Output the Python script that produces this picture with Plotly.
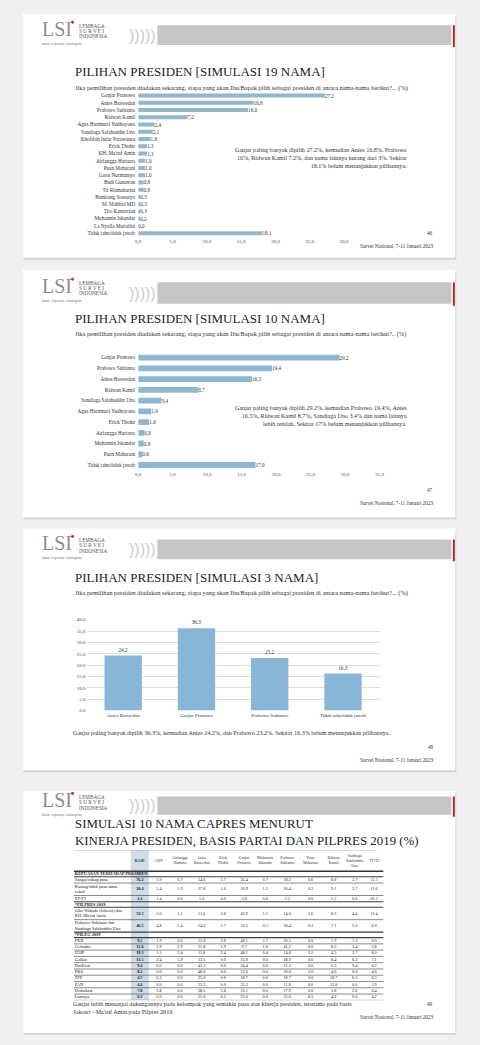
import plotly.graph_objects as go

W, H = 480, 1045
SERIF = "Liberation Serif, Times New Roman, serif"

# ------------------------------------------------------------------ data
sim19_names = ["Ganjar Pranowo", "Anies Baswedan", "Prabowo Subianto", "Ridwan Kamil",
               "Agus Harimurti Yudhoyono", "Sandiaga Salahuddin Uno", "Khofifah Indar Parawansa",
               "Erick Thohir", "KH. Ma'ruf Amin", "Airlangga Hartarto", "Puan Maharani",
               "Gatot Nurmantyo", "Budi Gunawan", "Tri Rismaharini", "Bambang Soesatyo",
               "M. Mahfud MD", "Tito Karnavian", "Muhaimin Iskandar", "La Nyalla Mattalitti",
               "Tidak tahu/tidak jawab"]
sim19_vals = [27.2, 16.8, 16.0, 7.2, 2.4, 2.1, 1.8, 1.3, 1.3, 1.0, 1.0, 1.0, 0.8, 0.8,
              0.3, 0.3, 0.3, 0.2, 0.0, 18.1]
sim19_ticks = [0, 5, 10, 15, 20, 25, 30]

sim10_names = ["Ganjar Pranowo", "Prabowo Subianto", "Anies Baswedan", "Ridwan Kamil",
               "Sandiaga Salahuddin Uno", "Agus Harimurti Yudhoyono", "Erick Thohir",
               "Airlangga Hartarto", "Muhaimin Iskandar", "Puan Maharani",
               "Tidak tahu/tidak jawab"]
sim10_vals = [29.2, 19.4, 16.5, 8.7, 3.4, 1.9, 1.6, 0.9, 0.8, 0.6, 17.0]
sim10_ticks = [0, 5, 10, 15, 20, 25, 30, 35]

sim3_names = ["Anies Baswedan", "Ganjar Pranowo", "Prabowo Subianto", "Tidak tahu/tidak jawab"]
sim3_vals = [24.2, 36.3, 23.2, 16.3]
sim3_ticks = [0, 5, 10, 15, 20, 25, 30, 35, 40]

tbl_headers = ["BASE", "AHY", "Airlangga<br>Hartarto", "Anies<br>Baswedan", "Erick<br>Thohir",
               "Ganjar<br>Pranowo", "Muhaimin<br>Iskandar", "Prabowo<br>Subianto",
               "Puan<br>Maharani", "Ridwan<br>Kamil", "Sandiaga<br>Salahuddin<br>Uno", "TT/TJ"]
tbl_labels = ["KEPUASAN TERHADAP PRESIDEN", "Sangat/cukup puas", "Kurang/tidak puas sama<br>sekali",
              "TT/TJ", "*PILPRES 2019", "Joko Widodo (Jokowi) dan<br>KH. Ma'ruf Amin",
              "Prabowo Subianto dan<br>Sandiaga Salahuddin Uno", "*PILEG 2019", "PKB", "Gerindra",
              "PDIP", "Golkar", "NasDem", "PKS", "PPP", "PAN", "Demokrat", "Lainnya"]
tbl_base      = [None, 76.2, 20.4, 3.3, None, 53.5, 46.5, None, 9.5, 12.6, 19.3, 13.5, 9.4, 8.2, 4.5, 4.4, 7.8, 6.3]
tbl_ahy       = [None, 1.0, 5.4, 1.4, None, 2.0, 4.8, None, 1.9, 2.9, 1.5, 2.4, 0.0, 0.0, 6.3, 0.0, 3.8, 0.0]
tbl_airlangga = [None, 0.7, 1.9, 0.0, None, 1.1, 1.4, None, 0.0, 1.9, 3.4, 5.9, 0.0, 0.0, 0.0, 0.0, 0.0, 0.0]
tbl_anies     = [None, 14.6, 27.8, 5.0, None, 11.4, 24.6, None, 15.8, 21.8, 11.8, 15.5, 41.2, 48.0, 25.0, 35.3, 38.5, 25.0]
tbl_erick     = [None, 1.7, 1.6, 0.0, None, 2.8, 1.7, None, 3.8, 1.9, 2.4, 0.0, 0.0, 0.0, 0.0, 0.0, 3.8, 8.3]
tbl_ganjar    = [None, 35.4, 10.9, 3.8, None, 43.9, 10.2, None, 49.1, 9.7, 48.1, 25.9, 24.4, 12.0, 18.7, 35.3, 23.1, 25.0]
tbl_muhaimin  = [None, 0.7, 1.3, 0.0, None, 1.1, 0.3, None, 5.7, 1.0, 0.4, 0.0, 0.0, 0.0, 0.0, 0.0, 0.0, 0.0]
tbl_prabowo   = [None, 18.2, 26.4, 3.2, None, 14.0, 36.4, None, 20.5, 41.2, 14.8, 28.9, 12.5, 30.0, 18.7, 11.8, 17.9, 25.0]
tbl_puan      = [None, 0.6, 0.2, 0.0, None, 1.6, 0.3, None, 0.0, 0.0, 3.1, 0.0, 0.0, 2.0, 0.0, 0.0, 0.0, 8.3]
tbl_ridwan    = [None, 8.8, 9.1, 2.2, None, 8.3, 7.1, None, 1.9, 8.3, 4.5, 8.4, 6.3, 4.0, 18.7, 11.8, 3.8, 4.2]
tbl_sandiaga  = [None, 3.7, 2.7, 0.0, None, 4.4, 5.0, None, 1.3, 3.4, 2.7, 6.2, 9.4, 0.0, 6.3, 0.0, 2.6, 0.0]
tbl_ttj       = [None, 15.1, 11.6, 81.1, None, 11.4, 6.9, None, 0.0, 5.8, 8.0, 7.1, 6.2, 4.0, 6.3, 5.9, 6.4, 4.2]
tbl_columns = [tbl_base, tbl_ahy, tbl_airlangga, tbl_anies, tbl_erick, tbl_ganjar, tbl_muhaimin,
               tbl_prabowo, tbl_puan, tbl_ridwan, tbl_sandiaga, tbl_ttj]

# ------------------------------------------------------------------ helpers
def px(x):
    return x / W


def py(y):
    return 1 - y / H


def fmt_c(v):
    return f"{v:.1f}".replace(".", ",")


BAR1 = "#93b6ca"
BAR2 = "#8db6d1"
BAR3 = "#88b6d6"
TXT = "#333333"

annotations = []
shapes = []


def txt(x, y, s, size, anchor="left", color="#222222", family=SERIF, align="left"):
    annotations.append(dict(x=px(x), y=py(y), xref="paper", yref="paper", text=s,
                            showarrow=False, xanchor=anchor, yanchor="middle", align=align,
                            font=dict(size=size, color=color, family=family), borderpad=0))


def rect(x0, y0, x1, y1, color, layer="below"):
    shapes.append(dict(type="rect", xref="paper", yref="paper", x0=px(x0), x1=px(x1),
                       y0=py(y1), y1=py(y0), fillcolor=color, line=dict(width=0), layer=layer))


def slide(top, bottom, bar_top, bar_bot):
    rect(21, top + 2, 461, bottom + 2, "#d3d5d8")
    rect(20, top, 460, bottom, "#ffffff")
    # header band
    rect(157, bar_top, 456, bar_bot, "#c6c6c6")
    rect(457.5, bar_top, 459.5, bar_bot + 2, "#b0262b")
    txt(127, (bar_top + bar_bot) / 2, ")))))", 16, color="#cbcbcb", family="Liberation Sans")
    # logo
    txt(39, bar_top + 4, "LSI", 20, color="#8e8e8e", family=SERIF)
    shapes.append(dict(type="circle", xref="paper", yref="paper", x0=px(69.2), x1=px(72.2),
                       y0=py(bar_top - 1.5), y1=py(bar_top - 4.5), fillcolor="#c0272d",
                       line=dict(width=0)))
    txt(76, bar_top + 0.8, "LEMBAGA", 5.2, color="#555555")
    txt(76, bar_top + 5.8, "S U R V E I", 5.2, color="#555555")
    txt(76, bar_top + 11.2, "INDONESIA", 5.2, color="#555555")
    txt(39, bar_top + 19, "akurat . terpercaya . berintegritas", 3.0, color="#666666")


# ------------------------------------------------------------------ backdrop / slides
slide(12, 257, 23.3, 43.3)
slide(269, 518, 281.7, 303.3)
slide(529, 772, 540, 560)
slide(793, 1036, 798.3, 816.7)

SUB = 6.4
CAP = 6.1

# slide 1 texts
txt(72, 70, "PILIHAN PRESIDEN [SIMULASI 19 NAMA]", 13)
txt(72, 86, "Jika pemilihan presiden diadakan sekarang, siapa yang akan Ibu/Bapak pilih sebagai "
            "presiden di antara nama-nama berikut?... (%)", SUB, color=TXT)
txt(412, 156.7, "Ganjar paling banyak dipilih 27.2%, kemudian Anies 16.8%, Prabowo<br>"
                "16%, Ridwan Kamil 7.2%, dan nama lainnya kurang dari 3%. Sekitar<br>"
                "18.1% belum menunjukkan pilihannya.", CAP, anchor="right", align="right", color=TXT)
txt(438, 232.3, "46", 5.2, anchor="right", color=TXT)
txt(439, 245.3, "Survei Nasional, 7-11 Januari 2023", 5.2, anchor="right", color=TXT)

# slide 2 texts
txt(72, 318.3, "PILIHAN PRESIDEN [SIMULASI 10 NAMA]", 13)
txt(72, 333.3, "Jika pemilihan presiden diadakan sekarang, siapa yang akan Ibu/Bapak pilih sebagai "
               "presiden di antara nama-nama berikut?.. (%)", SUB, color=TXT)
txt(412, 415.5, "Ganjar paling banyak dipilih 29.2%, kemudian Prabowo 19.4%, Anies<br>"
                "16.5%, Ridwan Kamil 8.7%, Sandiaga Uno 3.4% dan nama lainnya<br>"
                "lebih rendah. Sekitar 17% belum menunjukkan pilihannya.", CAP,
    anchor="right", align="right", color=TXT)
txt(438, 490, "47", 5.2, anchor="right", color=TXT)
txt(439, 503.3, "Survei Nasional, 7-11 Januari 2023", 5.2, anchor="right", color=TXT)

# slide 3 texts
txt(72, 578.3, "PILIHAN PRESIDEN [SIMULASI 3 NAMA]", 13)
txt(72, 594, "Jika pemilihan presiden diadakan sekarang, siapa yang akan Ibu/Bapak pilih sebagai "
             "presiden di antara nama-nama berikut?... (%)", SUB, color=TXT)
txt(70, 734.3, "Ganjar paling banyak dipilih 36.3%, kemudian Anies 24.2%, dan Prabowo 23.2%. "
               "Sekitar 16.3% belum menunjukkan pilihannya.", CAP, color=TXT)
txt(439, 748.3, "48", 5.2, anchor="right", color=TXT)
txt(439, 761.7, "Survei Nasional, 7-11 Januari 2023", 5.2, anchor="right", color=TXT)

# slide 4 texts
txt(72, 826, "SIMULASI 10 NAMA CAPRES MENURUT", 12.9)
txt(72, 843.5, "KINERJA PRESIDEN, BASIS PARTAI DAN PILPRES 2019 (%)", 12.9)
txt(70, 1010.5, "Ganjar lebih menonjol dukungannya pada kelompok yang semakin puas atas kinerja "
                "presiden, terutama pada basis<br>Jokowi - Ma'ruf Amin pada Pilpres 2019.", CAP, color=TXT)
txt(438, 1007, "49", 5.2, anchor="right", color=TXT)
txt(439, 1020, "Survei Nasional, 7-11 Januari 2023", 5.2, anchor="right", color=TXT)

fig = go.Figure()

# ------------------------------------------------------------------ chart 1
fig.add_trace(go.Bar(x=sim19_vals, y=sim19_names, orientation="h", xaxis="x", yaxis="y",
                     marker=dict(color=BAR1, line=dict(width=0)), width=0.55,
                     text=[fmt_c(v) for v in sim19_vals], textposition="outside",
                     constraintext="none", cliponaxis=False,
                     textfont=dict(size=5.2, color=TXT, family=SERIF), hoverinfo="skip"))

# ------------------------------------------------------------------ chart 2
fig.add_trace(go.Bar(x=sim10_vals, y=sim10_names, orientation="h", xaxis="x2", yaxis="y2",
                     marker=dict(color=BAR2, line=dict(width=0)), width=0.55,
                     text=[fmt_c(v) for v in sim10_vals], textposition="outside",
                     constraintext="none", cliponaxis=False,
                     textfont=dict(size=5.2, color=TXT, family=SERIF), hoverinfo="skip"))

# ------------------------------------------------------------------ chart 3
fig.add_trace(go.Bar(x=sim3_names, y=sim3_vals, xaxis="x3", yaxis="y3",
                     marker=dict(color=BAR3, line=dict(width=0)), width=0.51,
                     text=[fmt_c(v) for v in sim3_vals], textposition="outside",
                     constraintext="none", cliponaxis=False,
                     textfont=dict(size=5.2, color=TXT, family=SERIF), hoverinfo="skip"))

# ------------------------------------------------------------------ table (slide 4)
col_widths = [58, 18.3, 20.5, 22.2, 22, 21.7, 21.1, 21.7, 23, 24.5, 22.5, 20.2, 19.3]
header_h = 21.5
h_section, h_single, h_double = 5.5, 6.3, 12.5

edges = [0]
for w_ in col_widths:
    edges.append(edges[-1] + w_)
centers = [(edges[i] + edges[i + 1]) / 2 for i in range(len(col_widths))]

row_h = []
for i, lab in enumerate(tbl_labels):
    if tbl_base[i] is None:
        row_h.append(h_section)
    elif "<br>" in lab:
        row_h.append(h_double)
    else:
        row_h.append(h_single)
row_top = [header_h]
for h_ in row_h:
    row_top.append(row_top[-1] + h_)
row_c = [(row_top[i] + row_top[i + 1]) / 2 for i in range(len(row_h))]
total_h = row_top[-1]
total_w = edges[-1]

tbl_top_px, tbl_left_px = 852, 72

# BASE column highlight
shapes.append(dict(type="rect", xref="x4", yref="y4", x0=edges[1], x1=edges[2], y0=0, y1=total_h,
                   fillcolor="#cfdcea", line=dict(width=0), layer="below"))
# rules
shapes.append(dict(type="line", xref="x4", yref="y4", x0=0, x1=total_w - 7, y0=0, y1=0,
                   line=dict(color="#9a9a9a", width=0.8)))
shapes.append(dict(type="line", xref="x4", yref="y4", x0=0, x1=total_w, y0=header_h, y1=header_h,
                   line=dict(color="#333333", width=1.4)))
for i in range(len(row_h)):
    nxt_section = (i + 1 < len(row_h)) and tbl_base[i + 1] is None
    shapes.append(dict(type="line", xref="x4", yref="y4", x0=0, x1=total_w,
                       y0=row_top[i + 1], y1=row_top[i + 1],
                       line=dict(color="#3a3a3a", width=1.1 if (nxt_section or tbl_base[i] is None) else 0.6)))

# header
fig.add_trace(go.Scatter(x=centers[1:], y=[header_h / 2] * len(tbl_headers),
                         text=["<b>BASE</b>" if h_ == "BASE" else h_ for h_ in tbl_headers],
                         mode="text", textposition="middle center", xaxis="x4", yaxis="y4",
                         textfont=dict(size=3.9, color="#333333", family=SERIF),
                         hoverinfo="skip", cliponaxis=False))
# row labels
fig.add_trace(go.Scatter(x=[1.0] * len(tbl_labels), y=row_c,
                         text=[f"<b>{l}</b>" if tbl_base[i] is None else l for i, l in enumerate(tbl_labels)],
                         mode="text", textposition="middle right", xaxis="x4", yaxis="y4",
                         textfont=dict(size=4.4, color="#222222", family=SERIF),
                         hoverinfo="skip", cliponaxis=False))
# values
for j, col in enumerate(tbl_columns):
    xs, ys, ts = [], [], []
    for i, v in enumerate(col):
        if v is None:
            continue
        xs.append(centers[j + 1])
        ys.append(row_c[i])
        ts.append(f"<b>{v:.1f}</b>" if j == 0 else f"{v:.1f}")
    fig.add_trace(go.Scatter(x=xs, y=ys, text=ts, mode="text", textposition="middle center",
                             xaxis="x4", yaxis="y4",
                             textfont=dict(size=4.2, color="#222222", family=SERIF),
                             hoverinfo="skip", cliponaxis=False))

# ------------------------------------------------------------------ layout
tick_font = dict(size=5, family=SERIF, color="#444444")
cat_font = dict(size=5.2, family=SERIF, color=TXT)
hidden = dict(showgrid=False, zeroline=False, showline=False, showticklabels=False, ticks="",
              fixedrange=True)

fig.update_layout(
    width=W, height=H, autosize=False, showlegend=False,
    margin=dict(l=0, r=0, t=0, b=0),
    paper_bgcolor="#eff0f2", plot_bgcolor="rgba(0,0,0,0)",
    font=dict(family=SERIF),
    xaxis=dict(domain=[px(137.5), px(347)], range=[0, 30], anchor="y",
               tickvals=sim19_ticks, ticktext=[fmt_c(t) for t in sim19_ticks],
               showgrid=False, zeroline=False, showline=False, ticks="",
               tickfont=tick_font, fixedrange=True),
    yaxis=dict(domain=[py(235.9), py(90.4)], anchor="x", type="category", autorange="reversed",
               showgrid=False, zeroline=False, showline=False, ticks="", ticklabelstandoff=2,
               tickfont=cat_font, fixedrange=True),
    xaxis2=dict(domain=[px(137.5), px(383)], range=[0, 35], anchor="y2",
                tickvals=sim10_ticks, ticktext=[fmt_c(t) for t in sim10_ticks],
                showgrid=False, zeroline=False, showline=False, ticks="",
                tickfont=tick_font, fixedrange=True),
    yaxis2=dict(domain=[py(470.7), py(351.9)], anchor="x2", type="category", autorange="reversed",
                showgrid=False, zeroline=False, showline=False, ticks="", ticklabelstandoff=2,
                tickfont=cat_font, fixedrange=True),
    xaxis3=dict(domain=[px(85), px(383)], anchor="y3", type="category",
                showgrid=False, zeroline=False, showline=False, ticks="",
                tickfont=dict(size=5, family=SERIF, color=TXT), fixedrange=True),
    yaxis3=dict(domain=[py(712), py(620.7)], range=[0, 40], anchor="x3",
                tickvals=sim3_ticks, tickformat=".1f",
                showgrid=True, gridcolor="#dedede", gridwidth=0.8, zeroline=False, showline=False,
                ticks="", tickfont=tick_font, fixedrange=True),
    xaxis4=dict(domain=[px(tbl_left_px), px(tbl_left_px + total_w)], range=[0, total_w],
                anchor="x4" if False else "y4", **hidden),
    yaxis4=dict(domain=[py(tbl_top_px + total_h), py(tbl_top_px)], range=[total_h, 0],
                anchor="x4", **hidden),
    annotations=annotations,
    shapes=shapes,
)

fig.write_html("out.html", config={"displayModeBar": False},
               post_script="document.body.style.margin='0';document.body.style.overflow='hidden';")
